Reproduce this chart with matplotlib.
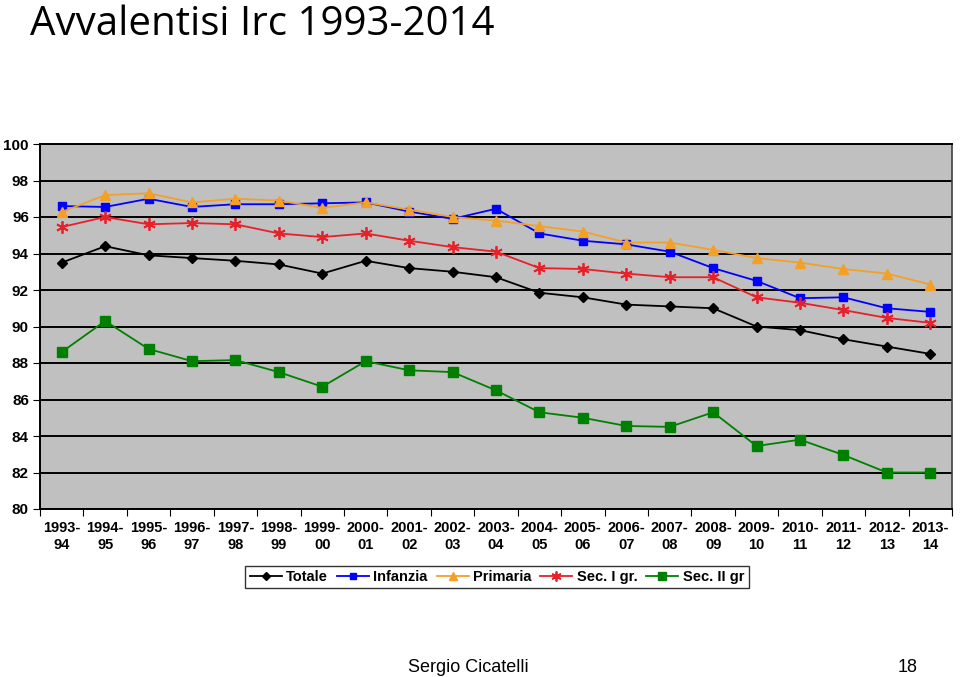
import matplotlib
matplotlib.use("Agg")
import matplotlib.pyplot as plt

categories = ["1993-\n94", "1994-\n95", "1995-\n96", "1996-\n97", "1997-\n98", "1998-\n99",
              "1999-\n00", "2000-\n01", "2001-\n02", "2002-\n03", "2003-\n04", "2004-\n05",
              "2005-\n06", "2006-\n07", "2007-\n08", "2008-\n09", "2009-\n10", "2010-\n11",
              "2011-\n12", "2012-\n13", "2013-\n14"]

totale = [93.5, 94.4, 93.9, 93.75, 93.6, 93.4, 92.9, 93.6, 93.2, 93.0, 92.7,
          91.85, 91.6, 91.2, 91.1, 91.0, 90.0, 89.8, 89.3, 88.9, 88.5]
infanzia = [96.6, 96.55, 97.0, 96.55, 96.7, 96.7, 96.75, 96.8, 96.3, 95.9, 96.45,
            95.1, 94.7, 94.5, 94.1, 93.2, 92.5, 91.55, 91.6, 91.0, 90.8]
primaria = [96.27, 97.2, 97.3, 96.8, 97.0, 96.9, 96.5, 96.8, 96.4, 96.0, 95.8,
            95.5, 95.2, 94.6, 94.6, 94.2, 93.75, 93.5, 93.15, 92.9, 92.3]
sec1 = [95.45, 96.0, 95.6, 95.67, 95.6, 95.1, 94.9, 95.1, 94.7, 94.35, 94.1,
        93.2, 93.15, 92.9, 92.7, 92.7, 91.6, 91.3, 90.9, 90.47, 90.2]
sec2 = [88.6, 90.3, 88.77, 88.1, 88.16, 87.5, 86.7, 88.1, 87.6, 87.5, 86.5,
        85.3, 85.0, 84.55, 84.5, 85.3, 83.45, 83.8, 82.96, 82.0, 82.0]

series_names = ["Totale", "Infanzia", "Primaria", "Sec. I gr.", "Sec. II gr"]
y_ticks = [80, 82, 84, 86, 88, 90, 92, 94, 96, 98, 100]

fig = plt.figure(figsize=(9.6, 6.77), dpi=100)
ax = fig.add_axes([40/960, 1-509/677, 912/960, 365/677])
ax.set_facecolor("#C0C0C0")

x = list(range(len(categories)))
styles = [
    dict(color="black", marker="D", markersize=5.5),
    dict(color="#0000FF", marker="s", markersize=6),
    dict(color="#F4A026", marker="^", markersize=7),
    dict(color="#E8202A", marker=(6, 2, 0), markersize=9, markeredgewidth=1.3),
    dict(color="#008000", marker="s", markersize=7.5),
]
data = [totale, infanzia, primaria, sec1, sec2]
handles = []
for name, vals, st in zip(series_names, data, styles):
    ln, = ax.plot(x, vals, linewidth=1.3, label=name, zorder=3, **st)
    handles.append(ln)

ax.set_xlim(-0.5, len(categories) - 0.5)
ax.set_ylim(80, 100)
ax.set_yticks(y_ticks)
ax.set_yticklabels([str(v) for v in y_ticks], fontfamily="Liberation Sans",
                   fontweight="bold", fontsize=11)
ax.yaxis.grid(True, color="black", linewidth=1.4)
ax.set_axisbelow(True)

ax.set_xticks([i - 0.5 for i in range(len(categories) + 1)])
ax.set_xticklabels([])
ax.set_xticks(x, minor=True)
ax.set_xticklabels(categories, minor=True, fontfamily="Liberation Sans",
                   fontweight="bold", fontsize=10.5, linespacing=1.2)
ax.tick_params(axis="x", which="minor", length=0, pad=9)
ax.tick_params(axis="x", which="major", length=5, direction="out", color="black")
ax.tick_params(axis="y", length=5, direction="out", color="black", pad=3)

for s in ["left", "bottom"]:
    ax.spines[s].set_color("black")
    ax.spines[s].set_linewidth(1.4)
ax.spines["top"].set_color("black")
ax.spines["top"].set_linewidth(1.4)
ax.spines["right"].set_color("#404040")
ax.spines["right"].set_linewidth(1.2)

leg = fig.legend(handles=handles, loc="center", bbox_to_anchor=(497/960, 1-577/677),
                 ncol=5, frameon=True, fancybox=False, edgecolor="black",
                 prop=dict(family="Liberation Sans", weight="bold", size=10.5),
                 handlelength=2.2, handletextpad=0.3, columnspacing=0.6,
                 borderpad=0.3, markerscale=0.8)
leg.get_frame().set_linewidth(1.0)

fig.text(30/960, 1-35/677, "Avvalentisi Irc 1993-2014", fontfamily="Open Sans",
         fontsize=29, va="baseline", ha="left", color="black")
fig.text(468/960, 1-667/677, "Sergio Cicatelli", fontfamily="Liberation Sans",
         fontsize=13, va="center", ha="center", color="black")
fig.text(908/960, 1-667/677, "18", fontfamily="Liberation Sans",
         fontsize=13, va="center", ha="center", color="black")

fig.savefig("out.png", dpi=100)
